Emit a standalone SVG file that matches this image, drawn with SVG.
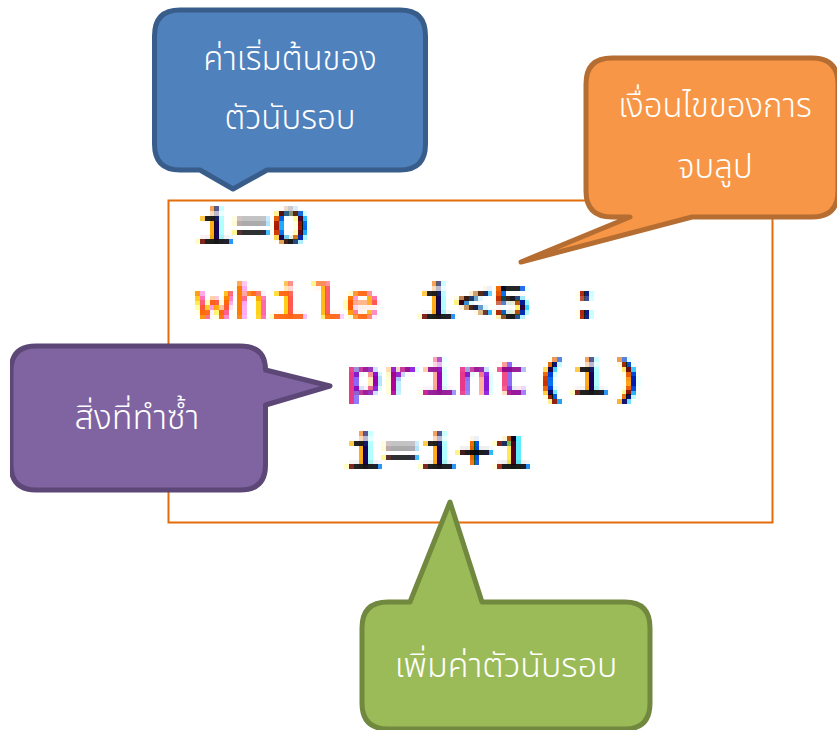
<svg xmlns="http://www.w3.org/2000/svg" width="837" height="730" viewBox="0 0 837 730">
<style>
.callout{stroke-width:5;stroke-linejoin:round}
.label{font-family:"Noto Sans Thai","Noto Sans","DejaVu Sans",sans-serif;font-size:33px;font-weight:300;fill:#fff;text-anchor:middle}
.wide{font-size:34px}
.code{font-family:"Liberation Mono",monospace;font-size:49px;stroke-width:.2}
.dark{fill:#000;stroke:#000}
.key{fill:#ff7700;stroke:#ff7700}
.fn{fill:#a000a0;stroke:#a000a0}
.zero{font-family:"Liberation Sans",sans-serif}
</style>
<defs>
<clipPath id="pageLeft"><rect x="10" y="0" width="827" height="730"/></clipPath>
<filter id="lcd" filterUnits="userSpaceOnUse" x="-5" y="-42" width="320" height="64" primitiveUnits="userSpaceOnUse" color-interpolation-filters="sRGB">
<feFlood x="2" y="-37" width="1" height="1" result="x0"/><feFlood x="7" y="-37" width="1" height="1" result="x1"/><feFlood x="12" y="-37" width="1" height="1" result="x2"/><feFlood x="17" y="-37" width="1" height="1" result="x3"/><feFlood x="21" y="-37" width="1" height="1" result="x4"/><feFlood x="26" y="-37" width="1" height="1" result="x5"/><feFlood x="31" y="-37" width="1" height="1" result="x6"/><feFlood x="35" y="-37" width="1" height="1" result="x7"/>
<feMerge x="0" y="-37" width="37" height="1" result="rowX"><feMergeNode in="x0"/><feMergeNode in="x1"/><feMergeNode in="x2"/><feMergeNode in="x3"/><feMergeNode in="x4"/><feMergeNode in="x5"/><feMergeNode in="x6"/><feMergeNode in="x7"/></feMerge>
<feTile in="rowX" x="-5" y="-42" width="320" height="64" result="combX"/>
<feFlood x="0" y="-35" width="1" height="1" result="y0"/><feFlood x="0" y="-30" width="1" height="1" result="y1"/><feFlood x="0" y="-25" width="1" height="1" result="y2"/><feFlood x="0" y="-20" width="1" height="1" result="y3"/><feFlood x="0" y="-16" width="1" height="1" result="y4"/><feFlood x="0" y="-11" width="1" height="1" result="y5"/><feFlood x="0" y="-6" width="1" height="1" result="y6"/><feFlood x="0" y="-2" width="1" height="1" result="y7"/>
<feMerge x="0" y="-37" width="1" height="37" result="rowY"><feMergeNode in="y0"/><feMergeNode in="y1"/><feMergeNode in="y2"/><feMergeNode in="y3"/><feMergeNode in="y4"/><feMergeNode in="y5"/><feMergeNode in="y6"/><feMergeNode in="y7"/></feMerge>
<feTile in="rowY" x="-5" y="-42" width="320" height="64" result="combY"/>
<feComposite in="combX" in2="combY" operator="in" result="grid"/>
<feColorMatrix in="SourceGraphic" type="matrix" values="0 0 0 0 1 0 0 0 0 1 0 0 0 0 0 0 0 -1.25 0 1.25"/><feGaussianBlur stdDeviation="0.9"/><feOffset dx="-2"/><feComposite in2="grid" operator="in"/><feMorphology operator="dilate" radius="2" result="yl"/>
<feColorMatrix in="SourceGraphic" type="matrix" values="0 0 0 0 1 0 0 0 0 0 0 0 0 0 1 0 -1.25 0 0 1.25"/><feGaussianBlur stdDeviation="0.9"/><feComposite in2="grid" operator="in"/><feMorphology operator="dilate" radius="2" result="mg"/>
<feColorMatrix in="SourceGraphic" type="matrix" values="0 0 0 0 0 0 0 0 0 1 0 0 0 0 1 -1.25 0 0 0 1.25"/><feGaussianBlur stdDeviation="0.9"/><feOffset dx="2"/><feComposite in2="grid" operator="in"/><feMorphology operator="dilate" radius="2" result="cy"/>
<feBlend in="yl" in2="mg" mode="multiply" result="m1"/><feBlend in="m1" in2="cy" mode="multiply"/>
</filter>
</defs>
<rect width="837" height="730" fill="#fff"/>
<g id="code-frame">
<rect x="168.500" y="200.500" width="604" height="322" fill="#fff" stroke="#e46c0a" stroke-width="2"/>
<g class="code">
<g transform="translate(195,243)" filter="url(#lcd)"><rect x="-5" y="-42" width="320" height="64" fill="#fff"/><text class="dark" x="1" transform="scale(1.258,1)">i=<tspan class="zero" dx="2">0</tspan></text></g>
<g transform="translate(195,318)" filter="url(#lcd)"><rect x="-5" y="-42" width="320" height="64" fill="#fff"/><text class="key" x="1" transform="scale(1.258,1)">while</text></g>
<g transform="translate(417,318)" filter="url(#lcd)"><rect x="-5" y="-42" width="320" height="64" fill="#fff"/><text class="dark" x="1" transform="scale(1.258,1)">i&lt;5 :</text></g>
<g transform="translate(344,394)" filter="url(#lcd)"><rect x="-5" y="-42" width="320" height="64" fill="#fff"/><text class="fn" x="1" transform="scale(1.258,1)">print</text></g>
<g transform="translate(533,394)" filter="url(#lcd)"><rect x="-5" y="-42" width="320" height="64" fill="#fff"/><text class="dark" x="1" transform="scale(1.258,1)">(i)</text></g>
<g transform="translate(344,468)" filter="url(#lcd)"><rect x="-5" y="-42" width="320" height="64" fill="#fff"/><text class="dark" x="1" transform="scale(1.258,1)">i=i+1</text></g>
</g>
</g>
<g id="callout-start">
<path class="callout" fill="#4f81bd" stroke="#385d8a" d="M180 10H400Q425.500 10 425.500 36V144Q425.500 170 400 170H267L233 189L200 170H180Q154.500 170 154.500 144V36Q154.500 10 180 10Z"/>
<text class="label" x="290" y="70">ค่าเริ่มต้นของ</text>
<text class="label" x="290" y="129">ตัวนับรอบ</text>
</g>
<g id="callout-condition">
<path class="callout" fill="#f79646" stroke="#b66d31" d="M612 58H812Q838 58 838 84V191Q838 217 812 217H692L521 262L630 217H612Q586 217 586 191V84Q586 58 612 58Z"/>
<text class="label" x="715" y="117">เงื่อนไขของการ</text>
<text class="label" x="715" y="178">จบลูป</text>
</g>
<g id="callout-body" clip-path="url(#pageLeft)">
<path class="callout" fill="#8064a2" stroke="#5c4776" d="M36 346H240Q265.500 346 265.500 370L330 386L265.500 405V465Q265.500 490 240 490H36Q11 490 11 465V371Q11 346 36 346Z"/>
<text class="label wide" x="137" y="429">สิ่งที่ทำซ้ำ</text>
</g>
<g id="callout-increment">
<path class="callout" fill="#9bbb59" stroke="#71893f" d="M388 602H410L450 502L482 602H625Q650 602 650 628V703Q650 729 625 729H388Q362 729 362 703V628Q362 602 388 602Z"/>
<text class="label wide" x="506" y="677">เพิ่มค่าตัวนับรอบ</text>
</g>
</svg>
